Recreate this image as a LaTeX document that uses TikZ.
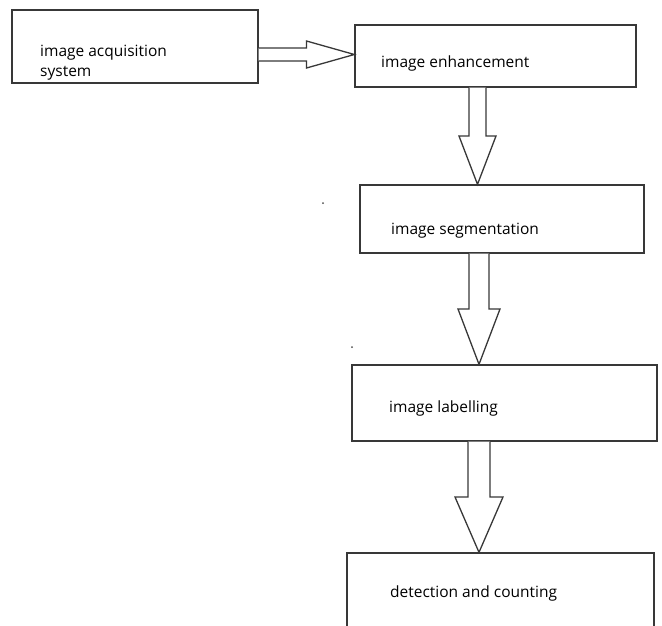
\documentclass[tikz,border=0pt]{standalone}
\usepackage{fontspec}
\setmainfont{Open Sans}
\usetikzlibrary{calc}

% hollow block arrows between two boxes
\newcommand{\blkdown}[5]{% from, to, x centre, shaft half width, head half width
  \draw[blk] let \p1=(#1.south), \p2=(#2.north), \p3=($(\p1)!.5!(\p2)$) in
    ({#3pt-#4pt},\y1) -- ({#3pt-#4pt},\y3) -- ({#3pt-#5pt},\y3) -- (#3pt,\y2)
    -- ({#3pt+#5pt},\y3) -- ({#3pt+#4pt},\y3) -- ({#3pt+#4pt},\y1);}
\newcommand{\blkright}[5]{% from, to, y centre, shaft half width, head half width
  \draw[blk] let \p1=(#1.east), \p2=(#2.west), \p3=($(\p1)!.5!(\p2)$) in
    (\x1,{#3pt+#4pt}) -- (\x3,{#3pt+#4pt}) -- (\x3,{#3pt+#5pt}) -- (\x2,#3pt)
    -- (\x3,{#3pt-#5pt}) -- (\x3,{#3pt-#4pt}) -- (\x1,{#3pt-#4pt});}

\begin{document}
\begin{tikzpicture}[x=1pt,y=-1pt,
    stagebox/.style={draw=black!78,line width=1.3pt,inner sep=0pt},
    blk/.style={draw=black!78,line width=1.3pt,fill=white,line join=miter},
    lbl/.style={anchor=west,inner sep=0pt,align=left,text=black,font=\fontsize{15.5}{20.5}\selectfont}]
  \useasboundingbox (0,0) rectangle (662,625);
  \clip (0,0) rectangle (662,625);
  \node[stagebox,minimum width=246pt,minimum height=73pt] (acq) at (135,46.5) {};
  \node[stagebox,minimum width=281pt,minimum height=62pt] (enh) at (495.5,56) {};
  \node[stagebox,minimum width=284pt,minimum height=68pt] (seg) at (502,219) {};
  \node[stagebox,minimum width=305pt,minimum height=76pt] (lab) at (504.5,403) {};
  \node[stagebox,minimum width=307pt,minimum height=100pt] (det) at (500.5,603) {};

  \node[lbl] (acqtxt) at (40,62.5) {image acquisition\\system};
  \node[lbl] (enhtxt) at (381,63) {image enhancement};
  \node[lbl] (segtxt) at (391,231) {image segmentation};
  \node[lbl] (labtxt) at (389,408) {image labelling};
  \node[lbl] (dettxt) at (390,593) {detection and counting};

  \blkright{acq}{enh}{-54.5}{6.5}{13.5}
  \blkdown{enh}{seg}{477.5}{8.5}{18.5}
  \blkdown{seg}{lab}{479}{10}{21}
  \blkdown{lab}{det}{479}{11}{24}

  \fill[black!70] (323,203) circle (1pt);
  \fill[black!70] (352,347) circle (1pt);
\end{tikzpicture}
\end{document}
